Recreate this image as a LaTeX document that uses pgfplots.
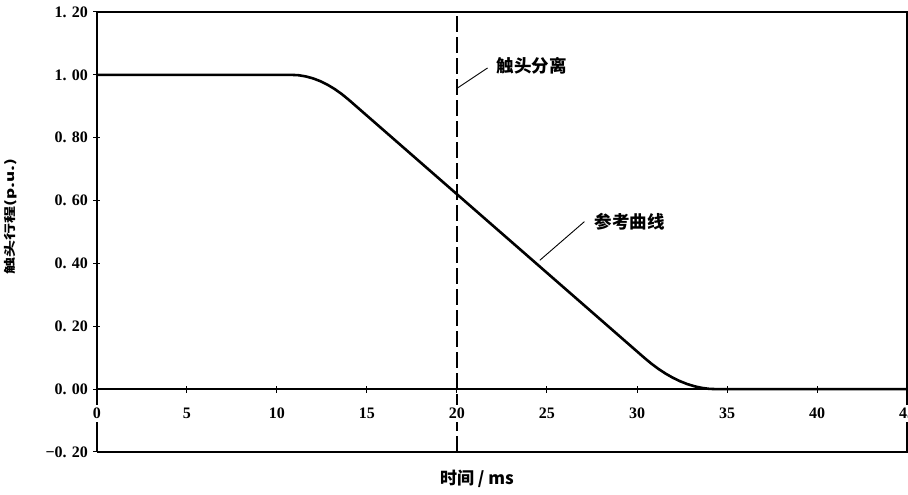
\documentclass[border=0pt]{standalone}
\usepackage{fontspec}
\setmainfont{Liberation Serif}
\newfontfamily\cjk{Noto Sans CJK SC}
\usepackage{pgfplots}
\pgfplotsset{compat=1.18}
\pgfplotstableread{
x y
0 1.000
10.8 1.000
11.2 0.9988
11.6 0.995
12.0 0.9888
12.4 0.980
12.8 0.9688
13.2 0.955
13.6 0.9388
14.0 0.920
15 0.87
16 0.82
17 0.77
18 0.72
19 0.67
20 0.62
21 0.57
22 0.52
23 0.47
24 0.42
25 0.37
26 0.32
27 0.27
28 0.22
29 0.17
30 0.12
30.4 0.100
30.8 0.081
31.2 0.064
31.6 0.049
32.0 0.036
32.4 0.025
32.8 0.016
33.2 0.009
33.6 0.004
34.0 0.001
34.4 0.000
45 0.000
}\curve
\begin{document}
\begin{tikzpicture}
\useasboundingbox (-97pt,-43pt) rectangle (811pt,452pt);
\begin{axis}[
  at={(0,0)}, anchor=south west,
  width=810pt, height=440pt, scale only axis,
  xmin=0, xmax=45, ymin=-0.2, ymax=1.2,
  clip=false, axis on top,
  axis x line=middle, axis y line=left,
  x axis line style={-, line width=1.3pt},
  y axis line style={-, line width=1.5pt},
  hide obscured x ticks=false,
  hide obscured y ticks=false,
  xtick={0,5,...,45},
  ytick={-0.2,0,0.2,0.4,0.6,0.8,1.0,1.2},
  yticklabels={−0.\,\,20,0.\,\,00,0.\,\,20,0.\,\,40,0.\,\,60,0.\,\,80,1.\,\,00,1.\,\,20},
  /pgf/number format/assume math mode=true,
  tick align=center, major tick length=7pt,
  tick style={line width=1pt, black},
  ticklabel style={font=\fontsize{16}{18}\selectfont\bfseries},
  xticklabel style={yshift=-12pt, fill=white},
  yticklabel style={xshift=-2pt},
  every axis x label/.style={at={(axis description cs:0.469,-0.061)}, anchor=center},
  every axis y label/.style={at={(axis description cs:-0.107,0.535)}, rotate=90, yscale=0.7, anchor=center},
  xlabel={\cjk\bfseries\fontsize{17}{19}\selectfont 时间 / ms},
  ylabel={\cjk\bfseries\fontsize{17}{19}\selectfont 触头行程(p.u.)},
]
\draw[line width=1.5pt] (rel axis cs:0,0) -- (rel axis cs:1,0) -- (rel axis cs:1,1) -- (rel axis cs:0,1);
\addplot[black, line width=1.2pt, dash pattern=on 16pt off 5pt] coordinates {(20,-0.2) (20,1.2)};
\addplot[black, line width=2.6pt, line join=round] table[x=x,y=y] {\curve};
\draw[line width=0.9pt] (axis cs:20.05,0.959) -- (axis cs:21.7,1.022);
\node[anchor=west, inner sep=0pt] at (axis cs:22.2,1.03) {\cjk\bfseries\fontsize{17.5}{19}\selectfont 触头分离};
\draw[line width=0.9pt] (axis cs:24.6,0.41) -- (axis cs:27.08,0.533);
\node[anchor=west, inner sep=0pt] at (axis cs:27.64,0.533) {\cjk\bfseries\fontsize{17.5}{19}\selectfont 参考曲线};
\end{axis}
\end{tikzpicture}
\end{document}
